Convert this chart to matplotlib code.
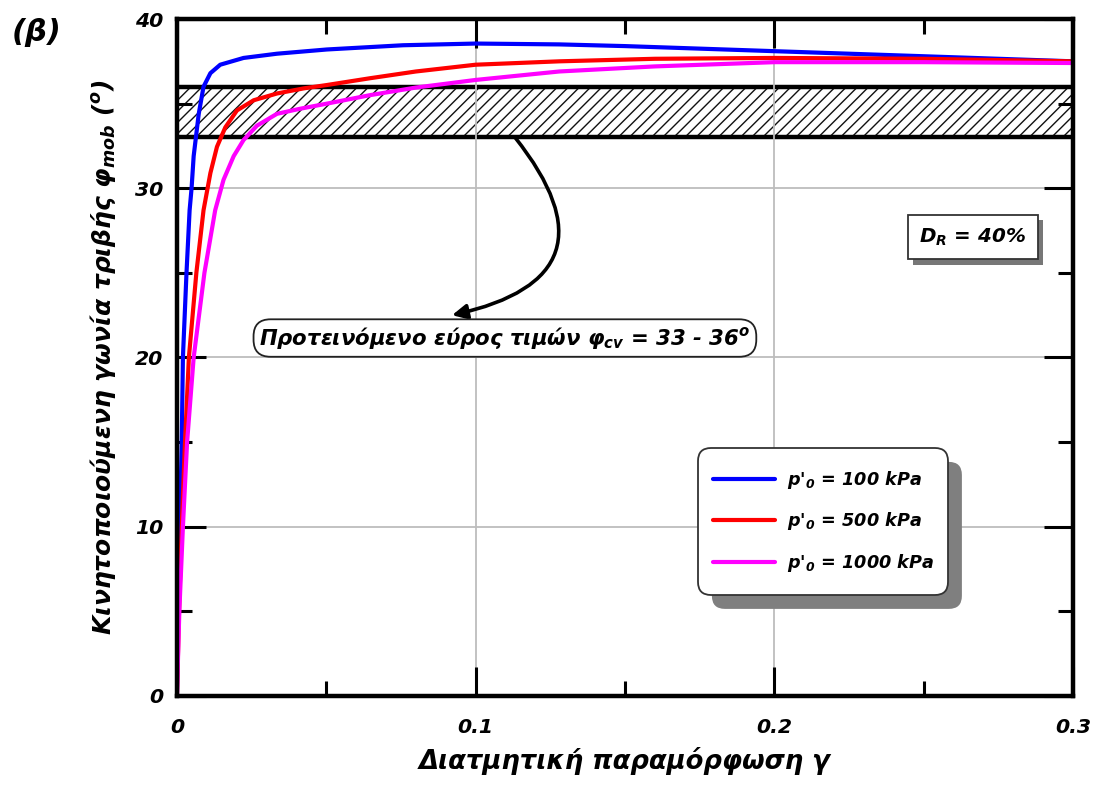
import matplotlib
matplotlib.use("Agg")
import matplotlib.pyplot as plt
from matplotlib.ticker import MultipleLocator, FixedFormatter, FixedLocator
from matplotlib.patches import FancyBboxPatch
from matplotlib.transforms import IdentityTransform
import matplotlib.patheffects as pe

plt.rcParams['mathtext.fontset'] = 'custom'
plt.rcParams['mathtext.it'] = 'DejaVu Sans:italic:bold'
plt.rcParams['mathtext.rm'] = 'DejaVu Sans:italic:bold'
plt.rcParams['mathtext.bf'] = 'DejaVu Sans:italic:bold'
plt.rcParams['hatch.linewidth'] = 1.0
FONT = ['DejaVu Sans']

# ---------------- data ----------------
gamma_100 = [0, 0.0004, 0.001, 0.0016, 0.002, 0.0032, 0.00424, 0.0049, 0.0056, 0.0073,
             0.0089, 0.0112, 0.0145, 0.0223, 0.0335, 0.0502, 0.0757, 0.1, 0.128, 0.15,
             0.2, 0.25, 0.3]
phi_100 = [0, 5, 10, 15, 20, 25, 28.7, 30, 31.9, 34.4,
           36.0, 36.8, 37.3, 37.7, 37.95, 38.2, 38.45, 38.55, 38.5, 38.4,
           38.1, 37.8, 37.5]

gamma_500 = [0, 0.0007, 0.0016, 0.0027, 0.004, 0.0065, 0.0089, 0.0112, 0.0134, 0.0162,
             0.0201, 0.0257, 0.0335, 0.0424, 0.0502, 0.0646, 0.08, 0.1, 0.128, 0.16,
             0.2, 0.25, 0.3]
phi_500 = [0, 5, 10, 15, 20, 25, 28.7, 30.9, 32.45, 33.6,
           34.6, 35.2, 35.6, 35.9, 36.1, 36.5, 36.9, 37.3, 37.5, 37.65,
           37.7, 37.65, 37.5]

gamma_1000 = [0, 0.0008, 0.002, 0.0034, 0.0056, 0.0092, 0.0128, 0.0156, 0.019, 0.0223,
              0.0268, 0.0335, 0.0413, 0.0502, 0.0646, 0.08, 0.1, 0.128, 0.16, 0.2,
              0.25, 0.3]
phi_1000 = [0, 5, 10, 15, 20, 25, 28.7, 30.5, 31.9, 32.85,
            33.7, 34.4, 34.7, 35.0, 35.5, 35.95, 36.4, 36.9, 37.2, 37.45,
            37.45, 37.4]

series_labels = ["p'$_{0}$ = 100 kPa", "p'$_{0}$ = 500 kPa", "p'$_{0}$ = 1000 kPa"]
series_colors = ['#0000ff', '#ff0000', '#ff00ff']

phi_cv_low, phi_cv_high = 33, 36

x_ticks = [0, 0.1, 0.2, 0.3]
x_ticklabels = ['0', '0.1', '0.2', '0.3']
y_ticks = [0, 10, 20, 30, 40]
y_ticklabels = ['0', '10', '20', '30', '40']

# ---------------- figure ----------------
fig = plt.figure(figsize=(10.99, 7.89), dpi=100)
ax = fig.add_axes([0.161, 0.1179, 0.8154, 0.858])
ax.set_xlim(0, 0.3)
ax.set_ylim(0, 40)

# hatched band
ax.axhspan(phi_cv_low, phi_cv_high, facecolor='white', edgecolor='#111111',
           hatch='///', linewidth=0, zorder=1)
ax.axhline(phi_cv_low, color='black', lw=3.2, zorder=1.2)
ax.axhline(phi_cv_high, color='black', lw=3.2, zorder=1.2)

# grid
ax.grid(True, which='major', color='#bdbdbd', lw=1.3)
ax.set_axisbelow('line')

# curves
for g, p, c, lab in zip([gamma_100, gamma_500, gamma_1000],
                        [phi_100, phi_500, phi_1000],
                        series_colors, series_labels):
    ax.plot(g, p, color=c, lw=3.0, label=lab, zorder=3,
            solid_capstyle='round', solid_joinstyle='round')

# ticks
ax.xaxis.set_major_locator(FixedLocator(x_ticks))
ax.xaxis.set_major_formatter(FixedFormatter(x_ticklabels))
ax.xaxis.set_minor_locator(MultipleLocator(0.05))
ax.yaxis.set_major_locator(FixedLocator(y_ticks))
ax.yaxis.set_major_formatter(FixedFormatter(y_ticklabels))
ax.yaxis.set_minor_locator(MultipleLocator(5))
ax.tick_params(which='both', direction='in', top=True, right=True, width=2.2, color='black')
ax.tick_params(which='major', length=21)
ax.tick_params(which='minor', length=11)
ax.tick_params(axis='x', which='major', pad=16)
ax.tick_params(axis='y', which='major', pad=10)
for lbl in ax.get_xticklabels() + ax.get_yticklabels():
    lbl.set_fontfamily(FONT)
    lbl.set_fontweight('bold')
    lbl.set_fontstyle('italic')
    lbl.set_fontsize(14.7)
for s in ax.spines.values():
    s.set_linewidth(3.2)
    s.set_zorder(5)

# axis labels
ax.set_xlabel('Διατμητική παραμόρφωση γ', fontsize=18.6, family=FONT,
              style='italic', fontweight='bold', labelpad=7)
ax.set_ylabel('Κινητοποιούμενη γωνία τριβής φ$_{mob}$ ($^{o}$)', fontsize=18,
              family=FONT, style='italic', fontweight='bold', labelpad=12)

# title (β)
fig.text(0.011, 0.959, '(β)', fontsize=22, family=FONT, style='italic',
         fontweight='bold', ha='left', va='center')

# arrow
ax.annotate('', xy=(0.0921, 22.5), xytext=(0.1132, 33.0),
            arrowprops=dict(arrowstyle='-|>', connectionstyle='arc3,rad=-0.8',
                            lw=2.6, color='black', mutation_scale=22, shrinkA=0, shrinkB=0),
            zorder=4)

# label box
ax.text(0.1098, 21.15, 'Προτεινόμενο εύρος τιμών φ$_{cv}$ = 33 - 36$^{o}$',
        fontsize=15.3, family=FONT, style='italic', fontweight='bold',
        ha='center', va='center', zorder=6,
        bbox=dict(boxstyle='round,pad=0.27,rounding_size=0.8', facecolor='white',
                  edgecolor='#222222', lw=1.3))

# D_R box with shadow
dr = ax.text(0.888, 0.678, 'D$_{R}$ = 40%', transform=ax.transAxes, fontsize=14.3,
             family=FONT, style='italic', fontweight='bold',
             color='black', ha='center', va='center', zorder=7,
             bbox=dict(boxstyle='square,pad=0.58', facecolor='white', edgecolor='#333333', lw=1.3))
dr.get_bbox_patch().set_path_effects([
    pe.SimplePatchShadow(offset=(4, -4), shadow_rgbFace='#777777', alpha=1.0),
    pe.Normal()])

# legend frame (rounded, with shadow), drawn in pixel space
H = 789
frame = FancyBboxPatch((698, H - 595), 250, 147, boxstyle='round,pad=0,rounding_size=13',
                       transform=IdentityTransform(), facecolor='white',
                       edgecolor='#333333', lw=1.3, zorder=7, clip_on=False)
frame.set_path_effects([
    pe.SimplePatchShadow(offset=(10, -10), shadow_rgbFace='#7f7f7f', alpha=1.0),
    pe.Normal()])
ax.add_artist(frame)

leg = ax.legend(loc='center', bbox_to_anchor=(0.7213, 0.2578), frameon=False,
                prop={'family': FONT, 'style': 'italic', 'weight': 'bold', 'size': 12.7},
                handlelength=3.5, handletextpad=0.68, labelspacing=1.1,
                borderpad=0.5)
leg.set_zorder(8)

fig.savefig('out.png', dpi=100)
